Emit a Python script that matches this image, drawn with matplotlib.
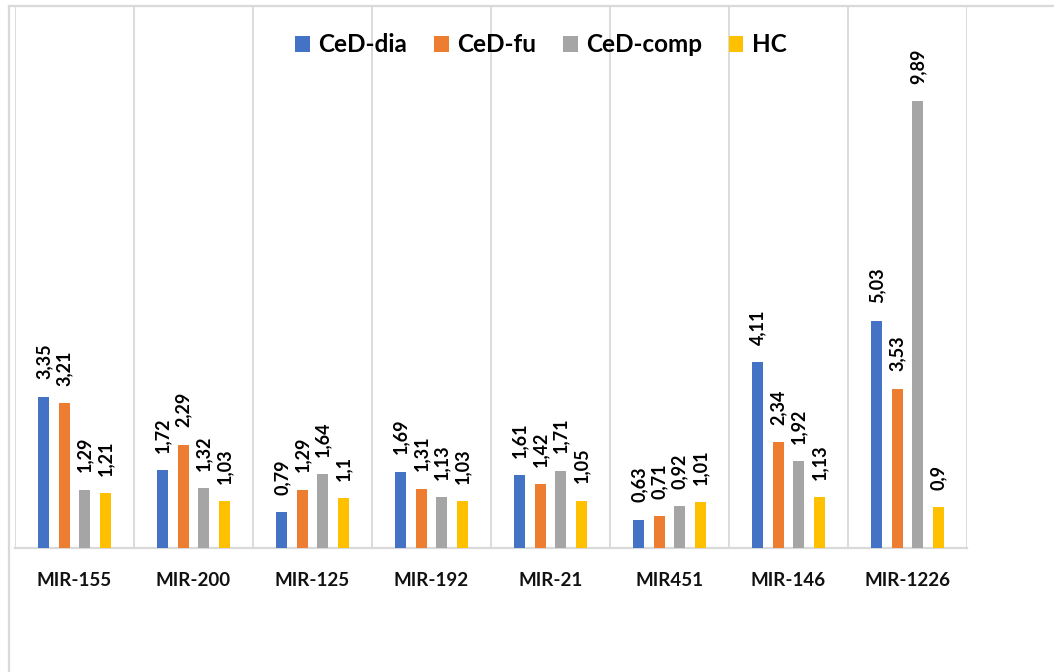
import numpy as np
import matplotlib
matplotlib.use("Agg")
import matplotlib.pyplot as plt
from matplotlib.lines import Line2D

categories = ["MIR-155", "MIR-200", "MIR-125", "MIR-192", "MIR-21", "MIR451", "MIR-146", "MIR-1226"]
series_names = ["CeD-dia", "CeD-fu", "CeD-comp", "HC"]
ced_dia = [3.35, 1.72, 0.79, 1.69, 1.61, 0.63, 4.11, 5.03]
ced_fu = [3.21, 2.29, 1.29, 1.31, 1.42, 0.71, 2.34, 3.53]
ced_comp = [1.29, 1.32, 1.64, 1.13, 1.71, 0.92, 1.92, 9.89]
hc = [1.21, 1.03, 1.1, 1.03, 1.05, 1.01, 1.13, 0.9]
colors = ["#4472C4", "#ED7D31", "#A5A5A5", "#FFC000"]

plt.rcParams["font.family"] = ["Lato", "DejaVu Sans"]
W, H = 1054, 672
fig = plt.figure(figsize=(W / 100, H / 100), dpi=100)
fig.patch.set_facecolor("white")

grid_c = "#D9D9D9"
# chart area border (runs off the right and bottom edges)
fig.add_artist(Line2D([9 / W, 1], [1 - 6 / H, 1 - 6 / H], transform=fig.transFigure, color=grid_c, lw=1.6))
fig.add_artist(Line2D([9 / W, 9 / W], [0, 1 - 6 / H], transform=fig.transFigure, color=grid_c, lw=1.6))

ax = fig.add_axes([15 / W, (H - 548) / H, (967 - 15) / W, (548 - 6) / H])
ax.set_facecolor("none")

x = np.arange(len(categories))
step = 0.172
width = 0.093
all_series = [ced_dia, ced_fu, ced_comp, hc]
for i, (name, vals, c) in enumerate(zip(series_names, all_series, colors)):
    pos = x + (i - 1.5) * step
    ax.bar(pos, vals, width=width, color=c, label=name, zorder=3)
    for px, v in zip(pos, vals):
        ax.annotate(f"{v:g}".replace(".", ","), (px, v), xytext=(0, 12.5), textcoords="offset points",
                    rotation=90, ha="center", va="bottom", fontsize=13, fontweight="bold", color="black")

ax.set_xlim(-0.5, len(categories) - 0.5)
ax.set_ylim(0, 12)
ax.set_yticks([])
ax.set_xticks(x)
ax.set_xticklabels(categories, fontsize=13.5, fontweight="bold", color="#111111")
ax.tick_params(axis="x", length=0, pad=17)
ax.set_xticks(np.arange(-0.5, len(categories)), minor=True)
ax.tick_params(axis="x", which="minor", length=0)
ax.grid(axis="x", which="minor", color=grid_c, lw=1.3, zorder=0)
for s in ["top", "right", "left"]:
    ax.spines[s].set_visible(False)
ax.spines["bottom"].set_color(grid_c)
ax.spines["bottom"].set_linewidth(1.6)

fig.legend(loc="center", bbox_to_anchor=(541 / W, 1 - 45 / H), ncol=4, frameon=False,
           prop={"size": 17.5, "weight": "bold"}, handlelength=0.6, handleheight=0.6,
           handletextpad=0.35, columnspacing=1.1)

fig.savefig("out.png", dpi=100)
